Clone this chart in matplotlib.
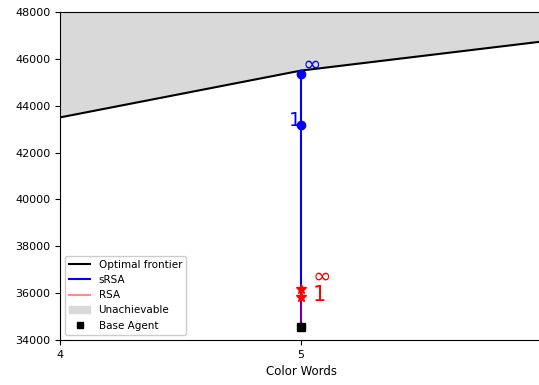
import matplotlib
matplotlib.use("Agg")
import matplotlib.pyplot as plt
from matplotlib.patches import Patch
import numpy as np

# frontier of achievable scores by number of color words
frontier_words = [4, 5, 6]
frontier_scores = [43500, 45500, 46740]

# speaker at 5 words: base agent, then sRSA / RSA at alpha = 1 and alpha = inf
agent_words = 5
base_score = 34560
srsa_scores = [43180, 45370]   # 1, inf
rsa_scores = [35850, 36170]    # 1, inf
ymax = 48000

fig = plt.figure(figsize=(5.39, 3.85), dpi=100)
ax = fig.add_axes([60 / 539, 45 / 385, 482 / 539, 328 / 385])

ax.fill_between(frontier_words, frontier_scores, ymax, color="#d9d9d9", lw=0)
ax.plot(frontier_words, frontier_scores, color="black", lw=1.5)

ax.plot([agent_words, agent_words], [base_score, max(srsa_scores)], color="blue", lw=1.5)
ax.plot([agent_words] * 2, srsa_scores, "o", color="blue", ms=6)
ax.plot([agent_words, agent_words], [base_score, max(rsa_scores)], color="red", alpha=0.45, lw=1.5)
ax.plot([agent_words] * 2, rsa_scores, "*", color="red", ms=7)
ax.plot([agent_words], [base_score], "s", color="black", ms=6)

ax.text(agent_words + 0.005, srsa_scores[1] + 150, "∞", color="blue", fontsize=16)
ax.text(agent_words - 0.05, srsa_scores[0] - 50, "1", color="blue", fontsize=14)
ax.text(agent_words + 0.05, rsa_scores[1] + 300, "∞", color="red", fontsize=16)
ax.text(agent_words + 0.05, rsa_scores[0] - 170, "1", color="red", fontsize=15)

ax.set_xlim(4, 6)
ax.set_ylim(34000, ymax)
ax.set_xticks([4, 5])
ax.set_yticks(np.arange(34000, 48001, 2000))
ax.tick_params(labelsize=8)
ax.set_xlabel("Color Words", fontsize=8.5, labelpad=4)

handles = [
    plt.Line2D([], [], color="black", lw=1.5, label="Optimal frontier"),
    plt.Line2D([], [], color="blue", lw=1.5, label="sRSA"),
    plt.Line2D([], [], color="red", alpha=0.45, lw=1.5, label="RSA"),
    Patch(color="#d9d9d9", label="Unachievable"),
    plt.Line2D([], [], marker="s", color="black", ls="", ms=5, label="Base Agent"),
]
ax.legend(handles=handles, loc="lower left", fontsize=7.5, framealpha=1)

fig.savefig("out.png", dpi=100)
